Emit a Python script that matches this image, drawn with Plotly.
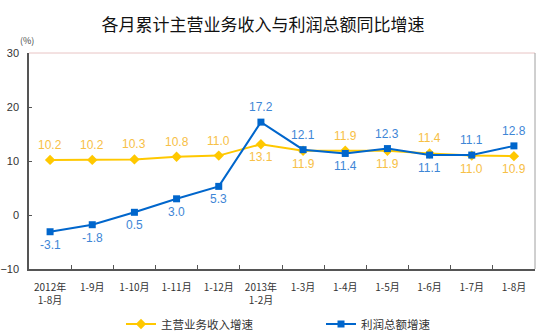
import plotly.graph_objects as go

categories = ["2012年<br>1-8月", "1-9月", "1-10月", "1-11月", "1-12月", "2013年<br>1-2月",
              "1-3月", "1-4月", "1-5月", "1-6月", "1-7月", "1-8月"]
revenue = [10.2, 10.2, 10.3, 10.8, 11.0, 13.1, 11.9, 11.9, 11.9, 11.4, 11.0, 10.9]
profit = [-3.1, -1.8, 0.5, 3.0, 5.3, 17.2, 12.1, 11.4, 12.3, 11.1, 11.1, 12.8]
# label side: 1 = above, -1 = below
revenue_side = [1, 1, 1, 1, 1, -1, -1, 1, -1, 1, -1, -1]
profit_side = [-1, -1, -1, -1, -1, 1, 1, -1, 1, -1, 1, 1]
y_ticks = [30, 20, 10, 0, -10]

YELLOW = "#FFC800"
YELLOW_TXT = "#F7C046"
BLUE = "#0066CC"
BLUE_TXT = "#3E86D6"
CJK = "Noto Sans CJK SC"
LAT = "Liberation Sans"

fig = go.Figure()
fig.add_trace(go.Scatter(
    x=categories, y=revenue, mode="lines+markers", name="主营业务收入增速",
    line=dict(color=YELLOW, width=2),
    marker=dict(symbol="diamond", size=8, color=YELLOW),
    legend="legend",
))
fig.add_trace(go.Scatter(
    x=categories, y=profit, mode="lines+markers", name="利润总额增速",
    line=dict(color=BLUE, width=2),
    marker=dict(symbol="square", size=7, color=BLUE),
    legend="legend2",
))

annotations = []
for vals, sides, col in ((revenue, revenue_side, YELLOW_TXT), (profit, profit_side, BLUE_TXT)):
    for c, v, s in zip(categories, vals, sides):
        annotations.append(dict(
            x=c, y=v, xref="x", yref="y", text=f"{v:.1f}", showarrow=False,
            yshift=15 if s > 0 else -13, yanchor="middle",
            font=dict(family=LAT, size=12, color=col),
        ))
annotations.append(dict(
    x=-2 / 506, y=1 + 12 / 216, xref="paper", yref="paper", text="(%)", showarrow=False,
    xanchor="center", yanchor="middle",
    font=dict(family=CJK, size=9, color="#444444"),
))

fig.update_layout(
    width=536, height=334,
    margin=dict(l=29, r=1, t=53, b=65),
    paper_bgcolor="white", plot_bgcolor="white",
    title=dict(text="各月累计主营业务收入与利润总额同比增速", x=263 / 536, xanchor="center",
               y=1 - 25.5 / 334, yanchor="middle",
               font=dict(family=CJK, size=17, color="#111111")),
    xaxis=dict(
        type="category", range=[-0.5, 11.5], showline=True, linecolor="#555555", linewidth=1.5,
        ticks="inside", tickson="boundaries", ticklen=4, tickcolor="#555555",
        showgrid=False, zeroline=False, ticklabelstandoff=8,
        tickfont=dict(family=CJK, size=10, color="#333333"),
    ),
    yaxis=dict(
        range=[-10, 30], tickvals=y_ticks, showline=True, linecolor="#555555", linewidth=1.5,
        ticks="inside", ticklen=3, tickcolor="#555555", showgrid=False, zeroline=False,
        tickfont=dict(family=LAT, size=11, color="#333333"), ticklabelstandoff=6,
    ),
    showlegend=True,
    legend=dict(orientation="h", xref="container", yref="container", x=121 / 536, y=1 - 324 / 334,
                xanchor="left", yanchor="middle", bgcolor="rgba(0,0,0,0)",
                font=dict(family=CJK, size=11.5, color="#333333")),
    legend2=dict(orientation="h", xref="container", yref="container", x=321 / 536, y=1 - 324 / 334,
                 xanchor="left", yanchor="middle", bgcolor="rgba(0,0,0,0)",
                 font=dict(family=CJK, size=11.5, color="#333333")),
    annotations=annotations,
    shapes=[
        dict(type="line", xref="paper", yref="paper", x0=0, x1=1, y0=1, y1=1,
             line=dict(color="#E8C4C4", width=1)),
        dict(type="line", xref="paper", yref="paper", x0=1, x1=1, y0=0, y1=1,
             line=dict(color="#A0A0A0", width=1)),
    ],
)

fig.write_html("out.html")
